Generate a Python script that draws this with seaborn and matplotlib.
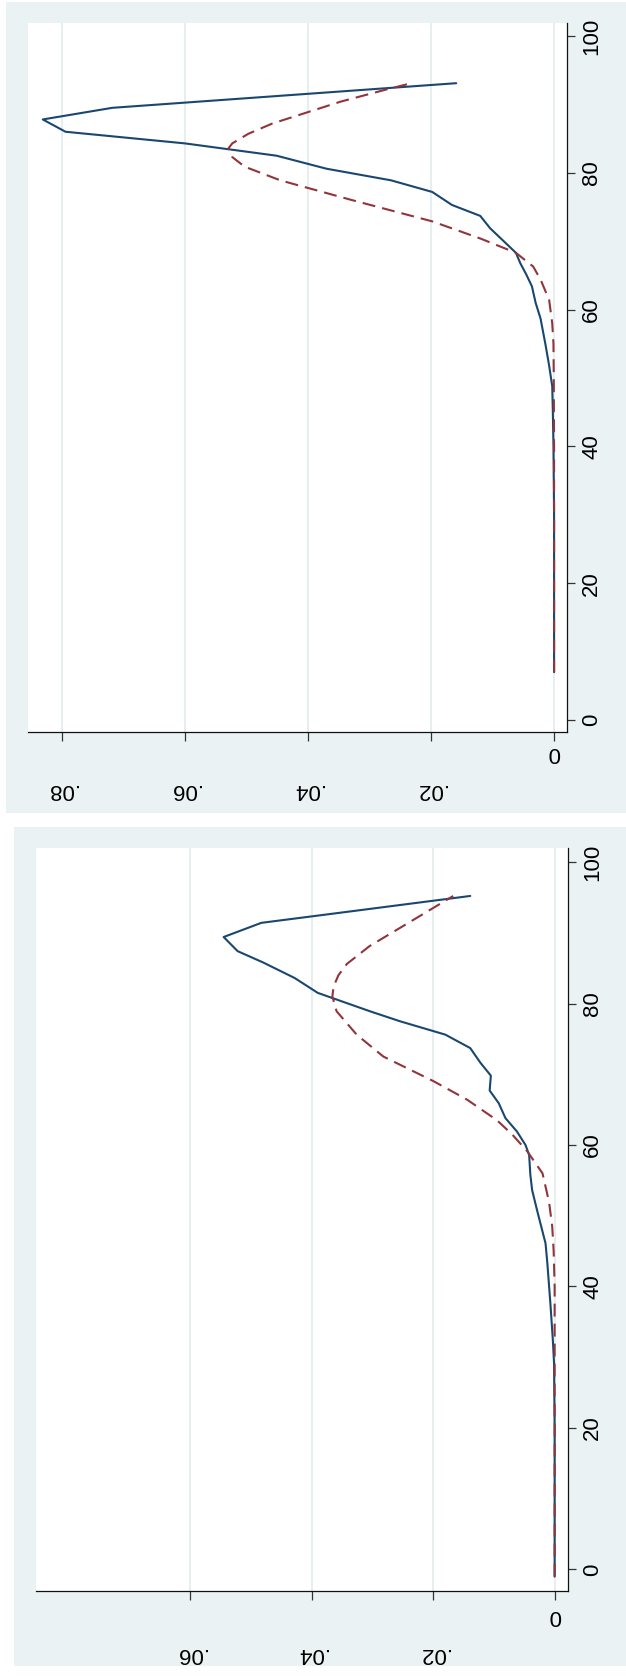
import matplotlib
matplotlib.use("Agg")
import matplotlib.pyplot as plt
import seaborn as sns
import pandas as pd
from matplotlib.patches import Rectangle

# ---------------- data ----------------
# top panel: observed density (solid) and normal density (dashed)
top_obs_value = [7, 20, 30, 40, 45, 48.8, 51.8, 54.9, 58.7, 61.0, 63.4, 65.1, 66.8, 68.3,
                 71.9, 73.7, 75.3, 77.2, 78.9, 80.6, 82.5, 84.3, 86.0, 87.8, 89.5, 93.1]
top_obs_density = [0, 0, 0, 0.0001, 0.0002, 0.0003, 0.0008, 0.0014, 0.0022, 0.0030, 0.0036,
                   0.0045, 0.0055, 0.0062, 0.0104, 0.0120, 0.0166, 0.0198, 0.0265, 0.0370,
                   0.0451, 0.0600, 0.0794, 0.0831, 0.0718, 0.0159]
top_norm_value = [7, 40, 50, 55, 58, 61.4, 64.4, 66.3, 68.3, 70.4, 72.9, 76.0, 78.9, 80.9,
                  82.3, 83.6, 84.3, 85.7, 87.2, 88.7, 90.4, 92.1, 93.1]
top_norm_density = [0, 0, 0.00005, 0.0001, 0.0003, 0.0008, 0.0022, 0.0034, 0.0062, 0.0120,
                    0.0198, 0.0328, 0.0445, 0.0503, 0.0523, 0.0529, 0.0523, 0.0497, 0.0458,
                    0.0406, 0.0347, 0.0276, 0.0232]

# bottom panel
bot_obs_value = [-1, 20, 29.2, 32.5, 37.6, 43.3, 46.1, 50.8, 53.6, 55.8, 58.6, 60.0, 61.9,
                 63.8, 65.9, 67.7, 69.8, 71.6, 73.7, 75.6, 77.5, 78.9, 81.5, 83.6, 85.8,
                 87.4, 89.4, 91.4, 92.7, 95.2]
bot_obs_density = [0, 0, 0.0001, 0.0003, 0.0007, 0.0012, 0.0015, 0.0029, 0.0037, 0.0040,
                   0.0042, 0.0048, 0.0062, 0.0081, 0.0092, 0.0107, 0.0105, 0.0122, 0.0139,
                   0.0180, 0.0255, 0.0304, 0.0390, 0.0428, 0.0480, 0.0522, 0.0545, 0.0483,
                   0.0365, 0.0139]
bot_norm_value = [-1, 40, 45, 48.5, 51.8, 53.0, 56.0, 59.1, 61.5, 63.5, 66.4, 69.0, 72.5,
                  75.6, 78.9, 81.0, 82.4, 84.0, 85.6, 88.1, 91.8, 95.2]
bot_norm_density = [0, 0, 0.00016, 0.0004, 0.0009, 0.0012, 0.0020, 0.0045, 0.0070, 0.0095,
                    0.0144, 0.0199, 0.0282, 0.0326, 0.0359, 0.0366, 0.0364, 0.0356, 0.0342,
                    0.0305, 0.0233, 0.0167]

value_ticks = [0, 20, 40, 60, 80, 100]
value_labels = ["0", "20", "40", "60", "80", "100"]
top_density_ticks = [0, 0.02, 0.04, 0.06, 0.08]
top_density_labels = ["0", ".02", ".04", ".06", ".08"]
bot_density_ticks = [0, 0.02, 0.04, 0.06]
bot_density_labels = ["0", ".02", ".04", ".06"]

# ---------------- style ----------------
sns.set_theme(style="white")
plt.rcParams['font.family'] = ['Liberation Sans', 'DejaVu Sans']

W, H, DPI = 626, 1677, 100
NAVY = "#1A476F"
MAROON = "#90353B"
BG = "#EAF2F3"
GRID = "#E1EBEE"
FS = 16

fig = plt.figure(figsize=(W / DPI, H / DPI), dpi=DPI)
fig.patch.set_facecolor("white")


def frac_rect(l, t, r, b):
    return [l / W, 1 - b / H, (r - l) / W, (b - t) / H]


for (l, t, r, b) in [(6, 2, 626, 813), (14, 827, 626, 1666)]:
    x0, y0, w, h = frac_rect(l, t, r, b)
    fig.add_artist(Rectangle((x0, y0), w, h, transform=fig.transFigure,
                             facecolor=BG, edgecolor="none", zorder=0))


def draw_panel(rect, obs_v, obs_d, norm_v, norm_d, dticks, dlabels, xlim, ylim,
               zero_pad, other_pad):
    ax = fig.add_axes(frac_rect(*rect))
    ax.set_facecolor("white")
    obs = pd.DataFrame({"density": obs_d, "value": obs_v})
    nrm = pd.DataFrame({"density": norm_d, "value": norm_v})
    sns.lineplot(data=obs, x="density", y="value", orient="y", sort=False,
                 estimator=None, color=NAVY, linewidth=1.5, ax=ax, zorder=3)
    sns.lineplot(data=nrm, x="density", y="value", orient="y", sort=False,
                 estimator=None, color=MAROON, linewidth=1.5,
                 linestyle=(0, (6.2, 3.4)), ax=ax, zorder=4)
    ax.set_xlim(*xlim)
    ax.set_ylim(*ylim)
    ax.set_xlabel("")
    ax.set_ylabel("")
    for s in ["left", "top"]:
        ax.spines[s].set_visible(False)
    for s in ["right", "bottom"]:
        ax.spines[s].set_visible(True)
        ax.spines[s].set_color("#111111")
        ax.spines[s].set_linewidth(0.9)
    ax.yaxis.tick_right()
    ax.set_yticks(value_ticks)
    ax.set_yticklabels(value_labels, rotation=90, va="center")
    ax.set_xticks(dticks)
    ax.set_xticklabels(dlabels, rotation=180)
    ax.tick_params(axis="y", which="major", direction="out", length=6.0, width=0.9,
                   color="#333333", pad=4.3, labelsize=FS, labelcolor="black",
                   right=True, left=False)
    ax.tick_params(axis="x", which="major", direction="out", length=6.5, width=0.9,
                   color="#333333", pad=other_pad, labelsize=FS, labelcolor="black",
                   bottom=True)
    ticks = ax.xaxis.get_major_ticks()
    ticks[0].set_pad(zero_pad)
    ax.grid(axis="x", color=GRID, linewidth=1.2)
    ax.grid(axis="y", visible=False)
    ax.set_axisbelow(True)
    return ax


draw_panel((28, 23, 567, 732), top_obs_value, top_obs_density, top_norm_value,
           top_norm_density, top_density_ticks, top_density_labels,
           (0.0855, -0.0021), (-1.75, 101.9), 0.8, 27.6)
draw_panel((36, 848, 568, 1591), bot_obs_value, bot_obs_density, bot_norm_value,
           bot_norm_density, bot_density_ticks, bot_density_labels,
           (0.0854, -0.0022), (-3.04, 101.98), 3.9, 30.6)

fig.savefig("out.png", dpi=DPI, facecolor="white")
